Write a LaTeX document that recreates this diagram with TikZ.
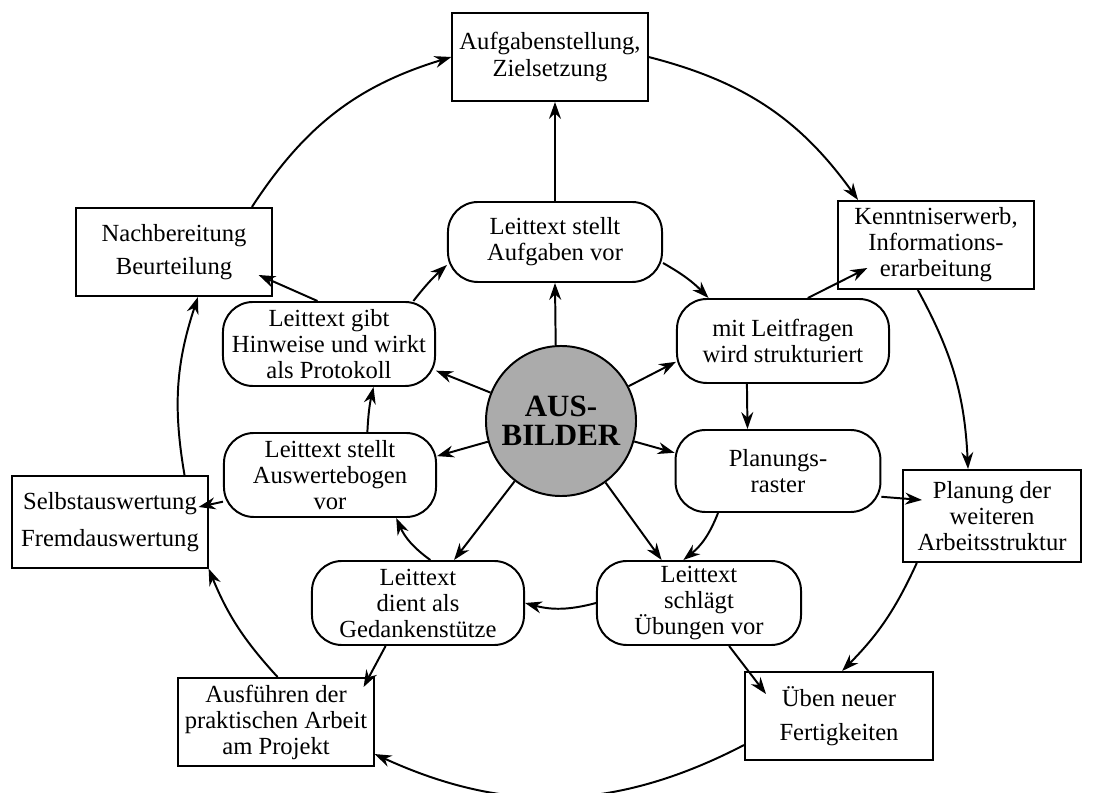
\documentclass[tikz,border=0pt]{standalone}
\usepackage{fontspec}
\setmainfont{Liberation Serif}
\usetikzlibrary{arrows.meta}

\begin{document}
\begin{tikzpicture}[x=0.025cm, y=0.025cm, line width=1.4pt,
  font=\fontsize{17.5}{18.5}\selectfont,
  box/.style={draw, minimum width=4.88cm, minimum height=2.2cm,
              align=center, inner sep=2pt},
  rbox/.style={draw, rounded corners=0.75cm, minimum width=5.3cm,
               minimum height=2.1cm, align=center, inner sep=2pt},
  arr/.style={-{Stealth[length=12pt, width=8.5pt]}}
]
  \useasboundingbox (0,0) rectangle (1100,-793);
  % aussen
  \node[box] (ziel)   at (550,-57)  {Aufgabenstellung,\\Zielsetzung};
  \node[box] (kenn)   at (936,-245) {Kenntniserwerb,\\Informations-\\erarbeitung};
  \node[box] (weit)   at (992,-516) [minimum width=4.45cm, minimum height=2.3cm]
        {Planung der\\weiteren\\Arbeitsstruktur};
  \node[box] (ueben)  at (839,-716) [minimum width=4.7cm] {Üben neuer\\[6pt]Fertigkeiten};
  \node[box] (ausf)   at (276,-722) {Ausführen der\\praktischen Arbeit\\am Projekt};
  \node[box] (selbst) at (110,-522) [minimum height=2.28cm]
        {Selbstauswertung\\[8pt]Fremdauswertung};
  \node[box] (nach)   at (174,-252) {Nachbereitung\\[5pt]Beurteilung};
  % innen
  \node[rbox] (aufgv)  at (555,-242) [minimum width=5.35cm, minimum height=2.0cm]
        {Leittext stellt\\Aufgaben vor};
  \node[rbox] (leitf)  at (783,-341) {mit Leitfragen\\wird strukturiert};
  \node[rbox] (plan)   at (778,-471) [minimum width=5.12cm, minimum height=2.05cm]
        {Planungs-\\raster};
  \node[rbox] (uebv)   at (699,-603) [minimum width=5.1cm] {Leittext\\schlägt\\Übungen vor};
  \node[rbox] (gedank) at (418,-603) {Leittext\\dient als\\Gedankenstütze};
  \node[rbox] (ausw)   at (330,-475) {Leittext stellt\\Auswertebogen\\vor};
  \node[rbox] (hinw)   at (329,-344) {Leittext gibt\\Hinweise und wirkt\\als Protokoll};
  \node[circle, draw, fill=black!33, minimum size=3.75cm, inner sep=0pt, align=center,
        font=\fontsize{22}{21}\selectfont\bfseries] (ausb) at (561,-421) {AUS-\\BILDER};
  % vom Ausbilder
  \draw[arr] (ausb.94) -- (aufgv.south);
  \draw[arr] (ausb) -- (leitf.191);
  \draw[arr] (ausb) -- (plan.170);
  \draw[arr] (ausb) -- (uebv.131);
  \draw[arr] (ausb) -- (gedank.50);
  \draw[arr] (ausb) -- (ausw.10);
  \draw[arr] (ausb) -- (hinw.-14);
  % innerer Kreis
  \draw[arr] (aufgv.-11) to[bend left=8] (leitf.150);
  \draw[arr] (leitf.-130) -- (plan.126);
  \draw[arr] (plan.-145) to[bend left=15] (uebv.110);
  \draw[arr] (uebv.west) to[bend left=15] (gedank.east);
  \draw[arr] (gedank.74) to[bend left=15] (ausw.-33);
  \draw[arr] (ausw.49) to[bend left=5] (hinw.-44);
  \draw[arr] (hinw.27) to[bend left=5] (aufgv.192);
  % von innen nach aussen
  \draw[arr] (aufgv.north) -- (aufgv.north |- ziel.south);
  \draw[arr] (leitf.60) -- ([shift={(30,22)}]kenn.south west);
  \draw[arr] (plan.-14) -- ([shift={(20,16)}]weit.west);
  \draw[arr] (uebv.-55) -- ([shift={(22,-23)}]ueben.north west);
  \draw[arr] (gedank.-127) -- ([shift={(-11,-10)}]ausf.north east);
  \draw[arr] (ausw.-166) -- ([shift={(-10,15)}]selbst.east);
  \draw[arr] (hinw.105) -- ([shift={(-14,22)}]nach.south east);
  % aeusserer Kreis
  \draw[arr] (ziel.east) to[bend left=20] (kenn.150);
  \draw[arr] (kenn.-112) to[bend left=13] (weit.117);
  \draw[arr] (weit.-148) to[bend left=10] (ueben.86);
  \draw[arr] (ueben.-163) to[bend left=26] (ausf.-18);
  \draw[arr] (ausf.88) to[bend left=10] (selbst.south east);
  \draw[arr] (selbst.32) to[bend left=14] (nach.-62);
  \draw[arr] (nach.30) to[bend left=20] (ziel.west);
\end{tikzpicture}
\end{document}
